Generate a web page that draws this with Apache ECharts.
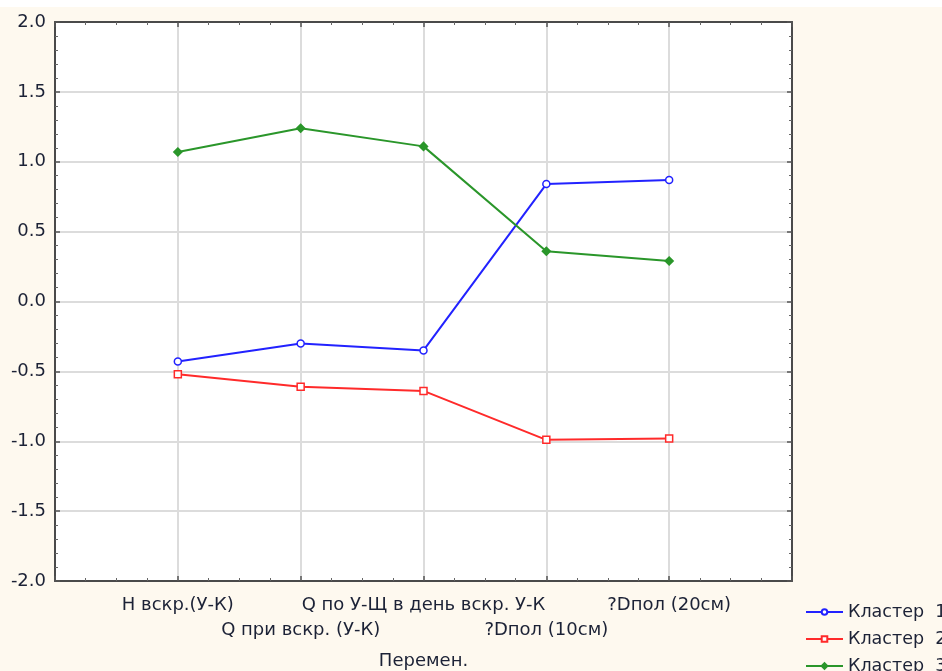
<!DOCTYPE html>
<html><head><meta charset="utf-8">
<script src="https://cdn.jsdelivr.net/npm/echarts@6/dist/echarts.min.js"></script>
<style>html,body{margin:0;padding:0;background:#fef9ef;overflow:hidden;}#c{width:942px;height:671px;}</style>
</head><body><div id="c"></div>
<script>
const categories = ["H вскр.(У-К)", "Q при вскр. (У-К)", "Q по У-Щ в день вскр. У-К", "?Dпол (10см)", "?Dпол (20см)"];
const seriesNames = ["Кластер  1", "Кластер  2", "Кластер  3"];
const cluster1 = [-0.43, -0.30, -0.35, 0.84, 0.87];
const cluster2 = [-0.52, -0.61, -0.64, -0.99, -0.98];
const cluster3 = [1.07, 1.24, 1.11, 0.36, 0.29];
const yTicks = [-2.0, -1.5, -1.0, -0.5, 0.0, 0.5, 1.0, 1.5, 2.0];

const colors = ["#2222ff", "#ff2a2a", "#2a962a"];
const symbols = ["circle", "rect", "diamond"];
const symbolSizes = [7, 7, 8];
const values = [cluster1, cluster2, cluster3];
const FONT = 'DejaVu Sans, Verdana, sans-serif';
const TXT = '#1c2236';
const FS = 18;

const chart = echarts.init(document.getElementById('c'));
function baseX(){ return {
  type:'value', min:0, max:categories.length+1, interval:1,
  axisLine:{show:true, onZero:false, lineStyle:{color:'#4a4a4a', width:2}},
  axisTick:{show:true, length:-5, lineStyle:{color:'#555', width:1.5}},
  minorTick:{show:true, splitNumber:4, length:-3, lineStyle:{color:'#666', width:1}},
};}
function baseY(){ return {
  type:'value', min:yTicks[0], max:yTicks[yTicks.length-1], interval:0.5,
  axisLine:{show:true, onZero:false, lineStyle:{color:'#4a4a4a', width:2}},
  axisTick:{show:true, length:-5, lineStyle:{color:'#555', width:1.5}},
  minorTick:{show:true, splitNumber:5, length:-3, lineStyle:{color:'#666', width:1}},
};}
const legendTops = [602, 629, 656];
chart.setOption({
  animation:false,
  backgroundColor:'#fef9ef',
  textStyle:{fontFamily:FONT},
  graphic:[{type:'rect', left:0, top:0, shape:{width:942, height:7}, style:{fill:'#ffffff'}, z:-1}],
  grid:{left:55, right:150, top:22, bottom:90, backgroundColor:'#ffffff', show:true, borderWidth:0,
        containLabel:false, outerBoundsMode:'none'},
  legend: seriesNames.map(function(n, k){ return {
    orient:'vertical', left:805, top:legendTops[k], padding:0, itemWidth:37, itemHeight:7, itemGap:0,
    textStyle:{fontSize:17.5, lineHeight:20, color:TXT, fontFamily:FONT, overflow:'none'},
    data:[n]
  };}),
  xAxis:[
    Object.assign(baseX(), {
      position:'bottom',
      name:'Перемен.', nameLocation:'middle', nameGap:71,
      nameTextStyle:{fontSize:FS, color:TXT, fontFamily:FONT},
      axisLabel:{show:true, margin:12, fontSize:FS, color:TXT, lineHeight:25, fontFamily:FONT,
        formatter:function(v){
          const i = Math.round(v)-1;
          if (i<0 || i>=categories.length || Math.abs(v-Math.round(v))>1e-6) return '';
          return (i%2===1 ? '\n' : '') + categories[i];
        }},
      splitLine:{show:true, lineStyle:{color:'#dcdcdc', width:2}}
    }),
    Object.assign(baseX(), {position:'top', axisLabel:{show:false}, splitLine:{show:false}})
  ],
  yAxis:[
    Object.assign(baseY(), {
      position:'left',
      axisLabel:{show:true, margin:9, fontSize:FS, color:TXT, fontFamily:FONT,
        formatter:function(v){ return v.toFixed(1); }},
      splitLine:{show:true, lineStyle:{color:'#dcdcdc', width:2}}
    }),
    Object.assign(baseY(), {position:'right', axisLabel:{show:false}, splitLine:{show:false}})
  ],
  series: values.map(function(vals, k){
    return {
      name:seriesNames[k], type:'line',
      data: vals.map(function(v,i){ return [i+1, v]; }),
      symbol:symbols[k], symbolSize:symbolSizes[k], showAllSymbol:true,
      lineStyle:{color:colors[k], width:2},
      itemStyle:{color: k===2 ? colors[k] : '#ffffff', borderColor:colors[k], borderWidth:1.5},
      z:3+k
    };
  })
});
</script>
</body></html>
